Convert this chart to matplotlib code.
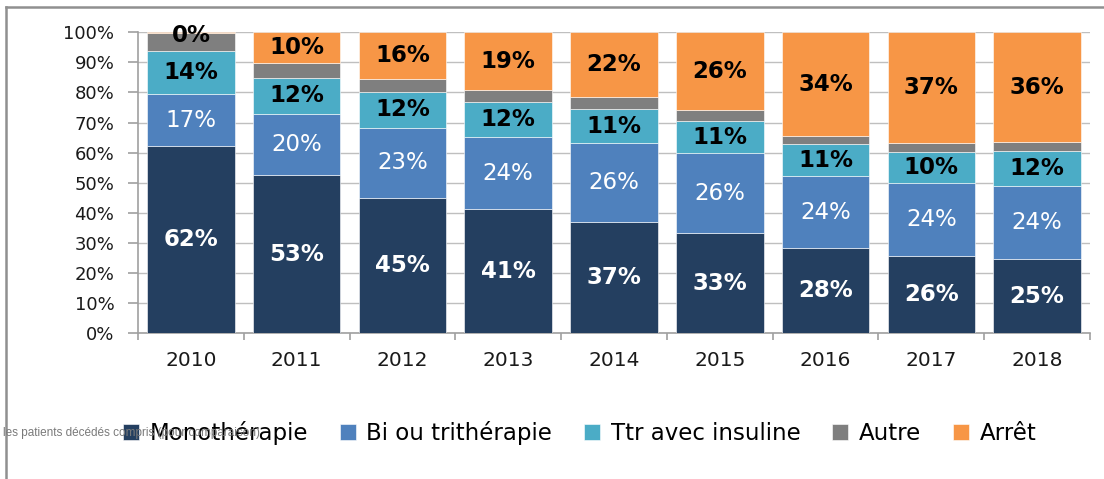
import matplotlib
matplotlib.use("Agg")
import matplotlib.pyplot as plt
from matplotlib.lines import Line2D
import numpy as np

years = ["2010", "2011", "2012", "2013", "2014", "2015", "2016", "2017", "2018"]
series_names = ["Monothérapie", "Bi ou trithérapie", "Ttr avec insuline", "Autre", "Arrêt"]
mono = [62.1, 52.5, 44.9, 41.2, 36.9, 33.2, 28.2, 25.6, 24.6]
bi = [17.3, 20.4, 23.4, 23.9, 26.2, 26.6, 24.0, 24.2, 24.2]
insuline = [14.3, 11.9, 11.8, 11.6, 11.3, 10.6, 10.6, 10.4, 11.7]
autre = [6.0, 5.0, 4.3, 4.0, 4.0, 3.7, 2.7, 3.0, 3.0]
arret = [0.3, 10.2, 15.6, 19.3, 21.6, 25.9, 34.5, 36.8, 36.5]

mono_lbl = ["62%", "53%", "45%", "41%", "37%", "33%", "28%", "26%", "25%"]
bi_lbl = ["17%", "20%", "23%", "24%", "26%", "26%", "24%", "24%", "24%"]
ins_lbl = ["14%", "12%", "12%", "12%", "11%", "11%", "11%", "10%", "12%"]
arret_lbl = ["0%", "10%", "16%", "19%", "22%", "26%", "34%", "37%", "36%"]

colors = ["#243F60", "#4F81BD", "#4BACC6", "#7F7F7F", "#F79646"]
footnote = "les patients décédés compris (pour comparaison)"

fig = plt.figure(figsize=(11.04, 4.79), dpi=100)
ax = fig.add_axes([0.125, 0.3042, 0.8623, 0.6284])

x = np.arange(len(years))
data = [mono, bi, insuline, autre, arret]
labels = [mono_lbl, bi_lbl, ins_lbl, None, arret_lbl]
label_style = [("white", "bold"), ("white", "normal"), ("black", "bold"), None, ("black", "bold")]
bottom = np.zeros(len(years))
for vals, col, name, lbls, sty in zip(data, colors, series_names, labels, label_style):
    vals = np.array(vals)
    ax.bar(x, vals, width=0.827, bottom=bottom, color=col, label=name,
           edgecolor="white", linewidth=0.4, zorder=3)
    if lbls is not None:
        for i in range(len(years)):
            yc = bottom[i] + vals[i] / 2
            if vals[i] < 2:
                yc = bottom[i] + vals[i] - 1.0
            ax.text(x[i], yc, lbls[i], ha="center", va="center",
                    color=sty[0], fontweight=sty[1], fontsize=16.5, zorder=4)
    bottom += vals

ax.set_xlim(-0.5, len(years) - 0.5)
ax.set_ylim(0, 100)
ax.set_yticks(np.arange(0, 101, 10))
ax.set_yticklabels([f"{v}%" for v in range(0, 101, 10)], fontsize=13, color="#1a1a1a")
ax.set_xticks(x)
ax.set_xticklabels(years, fontsize=14.5, color="#1a1a1a")
ax.set_xticks(np.arange(-0.5, len(years)), minor=True)
ax.tick_params(axis="x", which="major", length=0, pad=13)
ax.tick_params(axis="x", which="minor", length=5, color="#A0A0A0", width=1.2)
ax.tick_params(axis="y", length=7, color="#A0A0A0", width=1.2, pad=10)
ax.yaxis.grid(True, color="#BFBFBF", linewidth=1.0, zorder=0)
ax.set_axisbelow(True)
for s in ["top", "right"]:
    ax.spines[s].set_visible(False)
for s in ["left", "bottom"]:
    ax.spines[s].set_color("#A0A0A0")
    ax.spines[s].set_linewidth(1.2)

fig.text(0.003, 0.096, footnote, fontsize=8.5, color="#7a7a7a",
         family="Liberation Sans", va="center", ha="left")

leg = ax.legend(loc="center", bbox_to_anchor=(0.525, 0.096), bbox_transform=fig.transFigure,
                ncol=5, frameon=False, fontsize=16.5, handlelength=0.7, handleheight=0.7,
                handletextpad=0.45, columnspacing=1.4)

fig.add_artist(Line2D([0.0055, 1.0], [0.985, 0.985], transform=fig.transFigure,
                      color="#909090", linewidth=1.8))
fig.add_artist(Line2D([0.0055, 0.0055], [0.0, 0.985], transform=fig.transFigure,
                      color="#909090", linewidth=1.8))

fig.savefig("out.png", dpi=100)
